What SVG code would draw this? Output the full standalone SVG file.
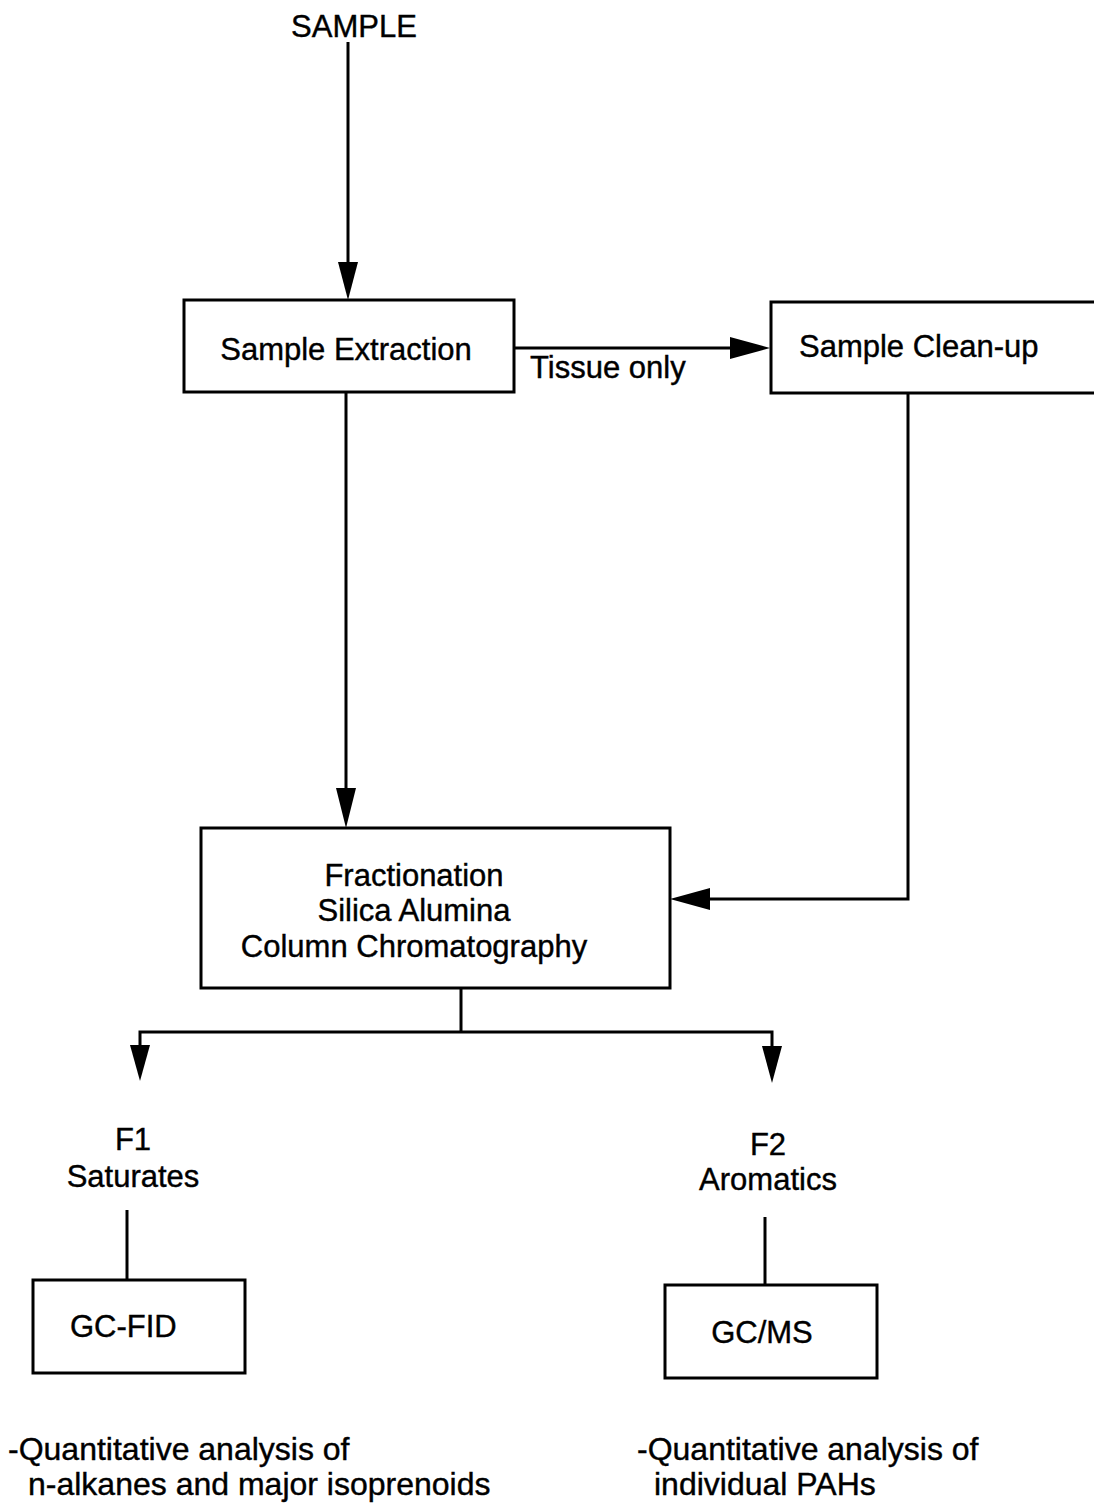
<svg xmlns="http://www.w3.org/2000/svg" width="1094" height="1503" viewBox="0 0 1094 1503">
<style>
text{font-family:"Liberation Sans",Arial,sans-serif;font-size:31px;fill:#000;stroke:#000;stroke-width:0.4}
.note{font-size:32px}
.box{fill:#fff;stroke:#000;stroke-width:3}
.ln{fill:none;stroke:#000;stroke-width:3}
.ah{fill:#000}
.mid{text-anchor:middle}
</style>
<rect width="1094" height="1503" fill="#fff"/>
<g id="connectors">
<line class="ln" x1="348" y1="42" x2="348" y2="270"/>
<polygon class="ah" points="338,262 358,262 348,300"/>
<line class="ln" x1="514" y1="348" x2="740" y2="348"/>
<polygon class="ah" points="730,337 730,359 770,348"/>
<line class="ln" x1="346" y1="392" x2="346" y2="800"/>
<polygon class="ah" points="336,788 356,788 346,828"/>
<polyline class="ln" points="908,393 908,899 700,899"/>
<polygon class="ah" points="710,888 710,910 670,899"/>
<polyline class="ln" points="461,988 461,1032"/>
<polyline class="ln" points="140,1060 140,1032 772,1032 772,1060"/>
<polygon class="ah" points="130,1045 150,1045 140,1081"/>
<polygon class="ah" points="762,1046 782,1046 772,1083"/>
<line class="ln" x1="127" y1="1210" x2="127" y2="1280"/>
<line class="ln" x1="765" y1="1217" x2="765" y2="1285"/>
</g>
<g id="sample"><text class="mid" x="354" y="37">SAMPLE</text></g>
<g id="extraction">
<rect class="box" x="184" y="300" width="330" height="92"/>
<text class="mid" x="346" y="360">Sample Extraction</text>
</g>
<g id="tissue-label"><text x="530" y="378">Tissue only</text></g>
<g id="cleanup">
<rect class="box" x="771" y="302" width="340" height="91"/>
<text x="799" y="357">Sample Clean-up</text>
</g>
<g id="fractionation">
<rect class="box" x="201" y="828" width="469" height="160"/>
<text class="mid" x="414" y="886">Fractionation</text>
<text class="mid" x="414" y="921">Silica Alumina</text>
<text class="mid" x="414" y="957">Column Chromatography</text>
</g>
<g id="f1">
<text class="mid" x="133" y="1150">F1</text>
<text class="mid" x="133" y="1187">Saturates</text>
</g>
<g id="f2">
<text class="mid" x="768" y="1155">F2</text>
<text class="mid" x="768" y="1190">Aromatics</text>
</g>
<g id="gcfid">
<rect class="box" x="33" y="1280" width="212" height="93"/>
<text x="70" y="1337">GC-FID</text>
</g>
<g id="gcms">
<rect class="box" x="665" y="1285" width="212" height="93"/>
<text class="mid" x="762" y="1343">GC/MS</text>
</g>
<g id="f1-note">
<text class="note" x="8" y="1460">-Quantitative analysis of</text>
<text class="note" x="28" y="1495">n-alkanes and major isoprenoids</text>
</g>
<g id="f2-note">
<text class="note" x="637" y="1460">-Quantitative analysis of</text>
<text class="note" x="654" y="1495">individual PAHs</text>
</g>
</svg>
